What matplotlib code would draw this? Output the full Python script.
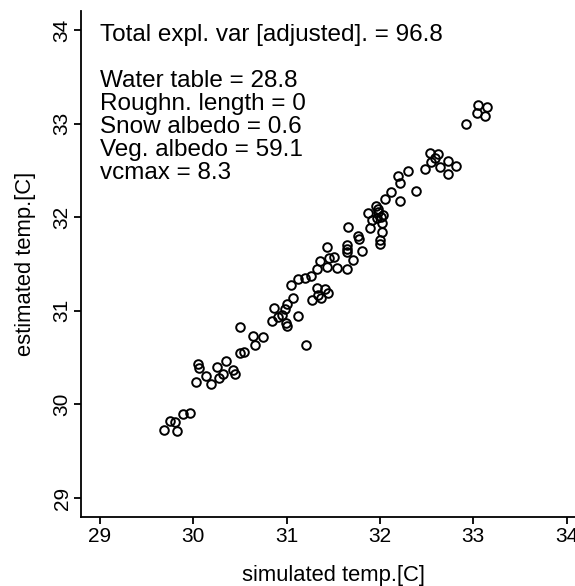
import matplotlib
matplotlib.use("Agg")
import matplotlib.pyplot as plt

# ---- data ----
sim_temp = [29.69, 29.75, 29.80, 29.83, 29.89, 29.96, 30.03, 30.05, 30.06, 30.14,
            30.19, 30.25, 30.27, 30.32, 30.35, 30.43, 30.45, 30.50, 30.50, 30.54,
            30.64, 30.66, 30.75, 30.84, 30.86, 30.91, 30.95, 30.98, 31.00, 30.99,
            31.00, 31.07, 31.05, 31.12, 31.12, 31.21, 31.20, 31.26, 31.27, 31.34,
            31.32, 31.41, 31.44, 31.37, 31.32, 31.36, 31.43, 31.435, 31.45, 31.51,
            31.535, 31.66, 31.645, 31.65, 31.65, 31.65, 31.71, 31.76, 31.78, 31.81,
            31.875, 31.895, 31.92, 31.96, 31.965, 31.975, 31.98, 32.015, 32.035, 32.025,
            32.025, 32.00, 32.00, 32.054, 32.118, 32.19, 32.22, 32.22, 32.30, 32.39,
            32.48, 32.54, 32.545, 32.59, 32.625, 32.64, 32.73, 32.73, 32.82, 32.92,
            33.05, 33.15, 33.045, 33.125]
est_temp = [29.73, 29.82, 29.81, 29.72, 29.90, 29.91, 30.24, 30.43, 30.39, 30.30,
            30.22, 30.40, 30.28, 30.33, 30.46, 30.37, 30.32, 30.83, 30.55, 30.56,
            30.73, 30.64, 30.72, 30.89, 31.03, 30.93, 30.96, 31.02, 31.07, 30.87,
            30.84, 31.14, 31.28, 30.94, 31.34, 30.635, 31.35, 31.375, 31.115, 31.17,
            31.24, 31.23, 31.19, 31.14, 31.45, 31.53, 31.47, 31.68, 31.56, 31.57,
            31.455, 31.90, 31.70, 31.665, 31.625, 31.45, 31.54, 31.80, 31.77, 31.635,
            32.04, 31.88, 31.97, 32.12, 31.99, 32.09, 32.06, 32.00, 32.025, 31.935,
            31.845, 31.755, 31.71, 32.19, 32.265, 32.445, 32.36, 32.17, 32.49, 32.28,
            32.51, 32.69, 32.59, 32.63, 32.67, 32.54, 32.60, 32.46, 32.55, 33.00,
            33.20, 33.18, 33.11, 33.085]

x_ticks = [29, 30, 31, 32, 33, 34]
y_ticks = [29, 30, 31, 32, 33, 34]
annot_lines = ["Total expl. var [adjusted]. = 96.8", "",
               "Water table = 28.8", "Roughn. length = 0", "Snow albedo = 0.6",
               "Veg. albedo = 59.1", "vcmax = 8.3"]

plt.rcParams["font.family"] = ["Liberation Sans", "DejaVu Sans"]
FS_TICK = 15
FS_LABEL = 15.8
FS_ANNOT = 17.5

fig = plt.figure(figsize=(5.75, 5.86), dpi=100)
W, H = 575.0, 586.0
ax_l, ax_r, ax_t, ax_b = 81.4, 585.2, 11.2, 516.8
ax = fig.add_axes([ax_l / W, (H - ax_b) / H, (ax_r - ax_l) / W, (ax_b - ax_t) / H])

ax.plot(sim_temp, est_temp, linestyle="none", marker="o", ms=6.2,
        mfc="none", mec="black", mew=1.4)

ax.set_xlim(28.8, 34.2)
ax.set_ylim(28.8, 34.2)
ax.set_xticks(x_ticks)
ax.set_yticks(y_ticks)
ax.set_xticklabels([str(t) for t in x_ticks])
ax.set_yticklabels([str(t) for t in y_ticks])

for s in ["top", "right"]:
    ax.spines[s].set_visible(False)
for s in ["left", "bottom"]:
    ax.spines[s].set_linewidth(1.3)

ax.tick_params(axis="both", direction="out", length=5, width=1.3,
               labelsize=FS_TICK, color="black", labelcolor="black")
ax.tick_params(axis="x", pad=2.5)
ax.tick_params(axis="y", pad=2)
for lab in ax.get_yticklabels():
    lab.set_rotation(90)
    lab.set_va("center")

ax.set_xlabel("simulated temp.[C]", fontsize=FS_LABEL)
ax.set_ylabel("estimated temp.[C]", fontsize=FS_LABEL)
ax.xaxis.set_label_coords(0.5, (ax_b - 576.0) / (ax_b - ax_t))
ax.xaxis.label.set_va("center")
ax.yaxis.set_label_coords((25.7 - ax_l) / (ax_r - ax_l), 0.5)
ax.yaxis.label.set_va("center")

# annotation block (one line per row, ~23 px apart)
px_per_unit = (ax_b - ax_t) / 5.4
y_top = 34.2 - (41.0 - ax_t) / px_per_unit
step = 23.0 / px_per_unit
for i, line in enumerate(annot_lines):
    if line:
        ax.text(29.0, y_top - i * step, line, fontsize=FS_ANNOT, va="baseline",
                ha="left", color="black")

fig.savefig("out.png", dpi=100)
